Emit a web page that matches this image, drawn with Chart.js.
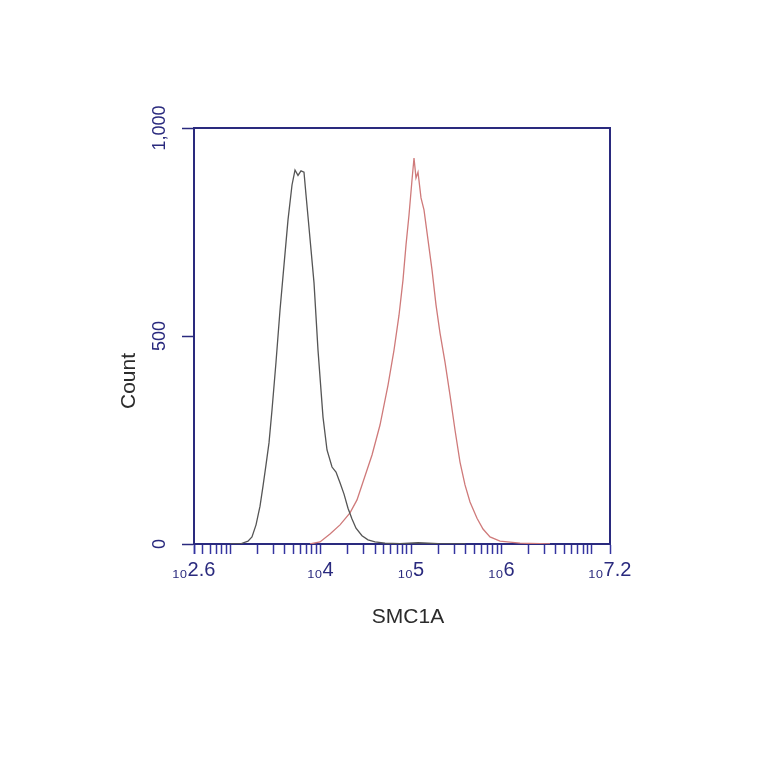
<!DOCTYPE html>
<html>
<head>
<meta charset="utf-8">
<script src="https://cdn.jsdelivr.net/npm/chart.js@4.4.1/dist/chart.umd.min.js"></script>
<style>
html,body{margin:0;padding:0;background:#ffffff;}
#c{display:block;}
</style>
</head>
<body>
<canvas id="c" width="764" height="764"></canvas>
<script>
// ---- data ----
const controlX = [1000, 1285, 1574, 1742, 1931, 2138, 2307, 2490, 2687, 2901, 3211, 3556, 3938, 4360, 4828, 5210, 5623, 6069, 6550, 6897, 7261, 7836, 8458, 9358, 10630, 11770, 13370, 14800, 16390, 18150, 20090, 22250, 24630, 28700, 33430, 39940, 51520, 75460, 120000, 200000, 400000];
const controlCount = [0, 0, 7, 17, 46, 91, 139, 190, 243, 322, 437, 562, 671, 779, 863, 899, 886, 897, 894, 839, 786, 707, 627, 466, 305, 226, 185, 173, 147, 120, 86, 60, 38, 20, 10, 5, 2, 1, 3, 1, 0];

const smc1aX = [7633, 9847, 12700, 16390, 21140, 25260, 29430, 37020, 45370, 55640, 64800, 73600, 81510, 87990, 94950, 102470, 107840, 113470, 119400, 128890, 139070, 154000, 170530, 188800, 209150, 237470, 269660, 306270, 347820, 395050, 448720, 536300, 624800, 746700, 963200, 1603000, 3441000];
const smc1aCount = [0, 5, 24, 46, 75, 106, 149, 214, 286, 382, 466, 550, 635, 719, 791, 875, 928, 880, 894, 832, 803, 731, 659, 575, 507, 437, 358, 274, 197, 142, 101, 62, 36, 17, 7, 2, 0];

const xTickExponents = [2.6, 4, 5, 6, 7.2];
const xTickLabels = ['\u2081\u20802.6', '\u2081\u20804', '\u2081\u20805', '\u2081\u20806', '\u2081\u20807.2'];
const yTickValues = [0, 500, 1000];
const yTickLabels = ['0', '500', '1,000'];
const xTitle = 'SMC1A';
const yTitle = 'Count';

// ---- styling ----
const NAVY = '#2a2a7e';
const TICKBLUE = '#3434a0';
const FONT = '"Liberation Sans", Arial, "DejaVu Sans", sans-serif';
const X_MIN = Math.pow(10, 2.6);
const X_MAX = Math.pow(10, 7.2);

// minor/major log tick positions
const xTickValues = [X_MIN];
for (let k = 2; k <= 7; k++) {
  for (let n = 1; n <= 9; n++) {
    const v = n * Math.pow(10, k);
    if (v > X_MIN && v < X_MAX) xTickValues.push(v);
  }
}
xTickValues.push(X_MAX);

function xLabel(v) {
  const lg = Math.log10(v);
  for (let i = 0; i < xTickExponents.length; i++) {
    if (Math.abs(lg - xTickExponents[i]) < 1e-6) return xTickLabels[i];
  }
  return '';
}

const titlePlugin = {
  id: 'axisTitles',
  afterDraw(chart) {
    const ctx = chart.ctx;
    const a = chart.chartArea;
    ctx.save();
    ctx.fillStyle = '#2b2b2b';
    ctx.font = '21px ' + FONT;
    ctx.textAlign = 'center';
    ctx.textBaseline = 'middle';
    ctx.fillText(xTitle, (a.left + a.right) / 2 + 6, a.bottom + 73);
    ctx.translate(a.left - 65, (a.top + a.bottom) / 2 + 45);
    ctx.rotate(-Math.PI / 2);
    ctx.fillText(yTitle, 0, 0);
    ctx.restore();
  }
};

new Chart(document.getElementById('c'), {
  type: 'line',
  data: {
    datasets: [
      {
        label: 'Control',
        data: controlX.map((x, i) => ({x: x, y: controlCount[i]})),
        borderColor: '#555555',
        borderWidth: 1.3,
        pointRadius: 0,
        tension: 0,
        fill: false,
        xAxisID: 'x',
        yAxisID: 'y'
      },
      {
        label: 'SMC1A',
        data: smc1aX.map((x, i) => ({x: x, y: smc1aCount[i]})),
        borderColor: '#cf7a7a',
        borderWidth: 1.3,
        pointRadius: 0,
        tension: 0,
        fill: false,
        xAxisID: 'x',
        yAxisID: 'y'
      }
    ]
  },
  options: {
    responsive: false,
    animation: false,
    devicePixelRatio: 1,
    layout: {padding: {left: 110, right: 154, top: 128, bottom: 137}},
    plugins: {legend: {display: false}, tooltip: {enabled: false}},
    scales: {
      x: {
        type: 'logarithmic',
        position: 'bottom',
        min: X_MIN,
        max: X_MAX,
        bounds: 'data',
        afterBuildTicks(scale) { scale.ticks = xTickValues.map(v => ({value: v})); },
        afterFit(scale) { scale.height = 83; },
        ticks: {
          autoSkip: false, minRotation: 0, maxRotation: 0, padding: 4,
          color: NAVY, font: {family: FONT, size: 20},
          callback(v) { return xLabel(v); }
        },
        grid: {drawOnChartArea: false, drawTicks: true, tickLength: 10, tickColor: TICKBLUE, tickWidth: 1.5},
        border: {color: NAVY, width: 2}
      },
      y: {
        type: 'linear',
        position: 'left',
        min: 0,
        max: 1000,
        afterBuildTicks(scale) { scale.ticks = yTickValues.map(v => ({value: v})); },
        afterFit(scale) { scale.width = 84; },
        ticks: {
          minRotation: 90, maxRotation: 90, crossAlign: 'center', padding: -1,
          color: NAVY, font: {family: FONT, size: 18},
          callback(v) { const i = yTickValues.indexOf(v); return i >= 0 ? yTickLabels[i] : ''; }
        },
        grid: {drawOnChartArea: false, drawTicks: true, tickLength: 12, tickColor: NAVY, tickWidth: 1.5},
        border: {color: NAVY, width: 2}
      },
      xTop: {
        type: 'linear', position: 'top', min: 0, max: 1,
        afterFit(scale) { scale.height = 0; },
        ticks: {display: false},
        grid: {display: false, drawTicks: false},
        border: {color: NAVY, width: 2}
      },
      yRight: {
        type: 'linear', position: 'right', min: 0, max: 1,
        afterFit(scale) { scale.width = 0; },
        ticks: {display: false},
        grid: {display: false, drawTicks: false},
        border: {color: NAVY, width: 2}
      }
    }
  },
  plugins: [titlePlugin]
});
</script>
</body>
</html>
